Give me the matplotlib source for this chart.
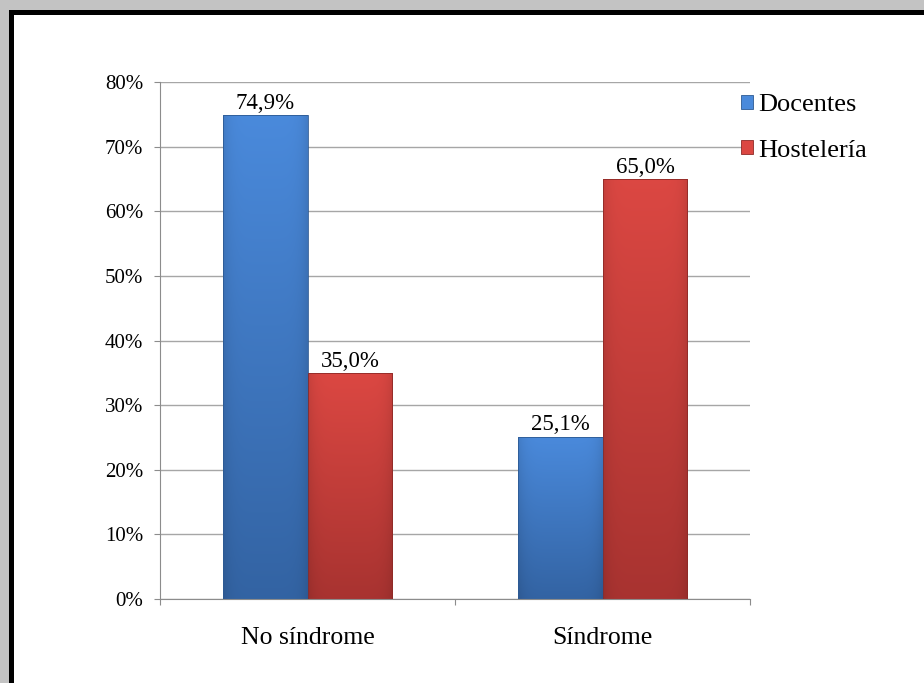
import numpy as np
import matplotlib
matplotlib.use("Agg")
import matplotlib.pyplot as plt
from matplotlib.patches import Patch, Rectangle
from matplotlib.ticker import FuncFormatter

plt.rcParams["font.family"] = ["Liberation Serif", "DejaVu Serif"]

categories = ["No síndrome", "Síndrome"]
series = ["Docentes", "Hostelería"]
docentes = [74.9, 25.1]
hosteleria = [35.0, 65.0]
value_labels = [["74,9%", "25,1%"], ["35,0%", "65,0%"]]

# top / bottom colours of the vertical gradient for each series
shades = {
    "Docentes": ((0.29, 0.54, 0.86), (0.20, 0.39, 0.64)),
    "Hostelería": ((0.86, 0.28, 0.26), (0.66, 0.20, 0.19)),
}
edges = {"Docentes": "#2d5a93", "Hostelería": "#8e2a27"}

fig = plt.figure(figsize=(9.24, 6.83), dpi=100)

# page frame: light grey margin with a heavy black rule
fig.patches.append(Rectangle((0, 0), 1, 1, transform=fig.transFigure,
                             facecolor="#c3c3c3", edgecolor="none", zorder=-3))
fig.patches.append(Rectangle((9 / 924, 0), 1, 1 - 10 / 683,
                             transform=fig.transFigure,
                             facecolor="black", edgecolor="none", zorder=-2))
fig.patches.append(Rectangle((14 / 924, 0), 1, 1 - 15 / 683,
                             transform=fig.transFigure,
                             facecolor="white", edgecolor="none", zorder=-1))

ax = fig.add_axes([160 / 924, 84 / 683, 590 / 924, 517 / 683])
ax.set_facecolor("none")

x = np.arange(len(categories))
w = 0.288


def gradient_img(top, bottom, n=64):
    t = np.linspace(0, 1, n)[:, None]
    s = np.linspace(-1, 1, n)[None, :]
    top, bottom = np.array(top), np.array(bottom)
    rgb = top[None, None, :] * (1 - t[..., None]) + bottom[None, None, :] * t[..., None]
    side = 1 - 0.10 * np.abs(s) ** 6
    return np.clip(rgb * side[..., None], 0, 1)


for i, (name, vals) in enumerate(zip(series, [docentes, hosteleria])):
    bars = ax.bar(x + (i - 0.5) * w, vals, w, facecolor="none",
                  edgecolor=edges[name], lw=0.6, zorder=3)
    img = gradient_img(*shades[name])
    for b, lab in zip(bars, value_labels[i]):
        x0, y0 = b.get_x(), b.get_y()
        im = ax.imshow(img, extent=(x0, x0 + b.get_width(), y0, y0 + b.get_height()),
                       aspect="auto", zorder=2, interpolation="bilinear")
        im.set_clip_path(b)
        ax.text(x0 + b.get_width() / 2, b.get_height() + 0.2, lab,
                ha="center", va="bottom", fontsize=16.5)

ax.set_xlim(-0.5, 1.5)
ax.set_ylim(0, 80)
ax.set_yticks(np.arange(0, 81, 10))
ax.yaxis.set_major_formatter(FuncFormatter(lambda v, _: f"{v:.0f}%"))
ax.grid(axis="y", color="#a6a6a6", lw=1.0, zorder=0)

ax.set_xticks([-0.5, 0.5, 1.5])
ax.set_xticklabels([])
ax.set_xticks(x, minor=True)
ax.set_xticklabels(categories, minor=True)
ax.tick_params(axis="x", which="minor", length=0, pad=20.5, labelsize=18.5)
ax.tick_params(axis="x", which="major", length=4.5, color="#8c8c8c", direction="out")
ax.tick_params(axis="y", length=4.5, color="#8c8c8c", labelsize=15, pad=7.5)

for side in ("top", "right"):
    ax.spines[side].set_visible(False)
for side in ("left", "bottom"):
    ax.spines[side].set_color("#8c8c8c")
ax.set_xlim(-0.5, 1.5)
ax.set_ylim(0, 80)

handles = [Patch(facecolor=shades[n][0], edgecolor=edges[n], lw=0.6, label=n)
           for n in series]
fig.legend(handles=handles, loc="upper left",
           bbox_to_anchor=(741 / 924, 1 - 94 / 683), frameon=False,
           fontsize=19, handlelength=0.45, handleheight=0.45,
           handletextpad=0.2, labelspacing=0.9, borderaxespad=0,
           borderpad=0)

fig.savefig("out.png", dpi=100)
